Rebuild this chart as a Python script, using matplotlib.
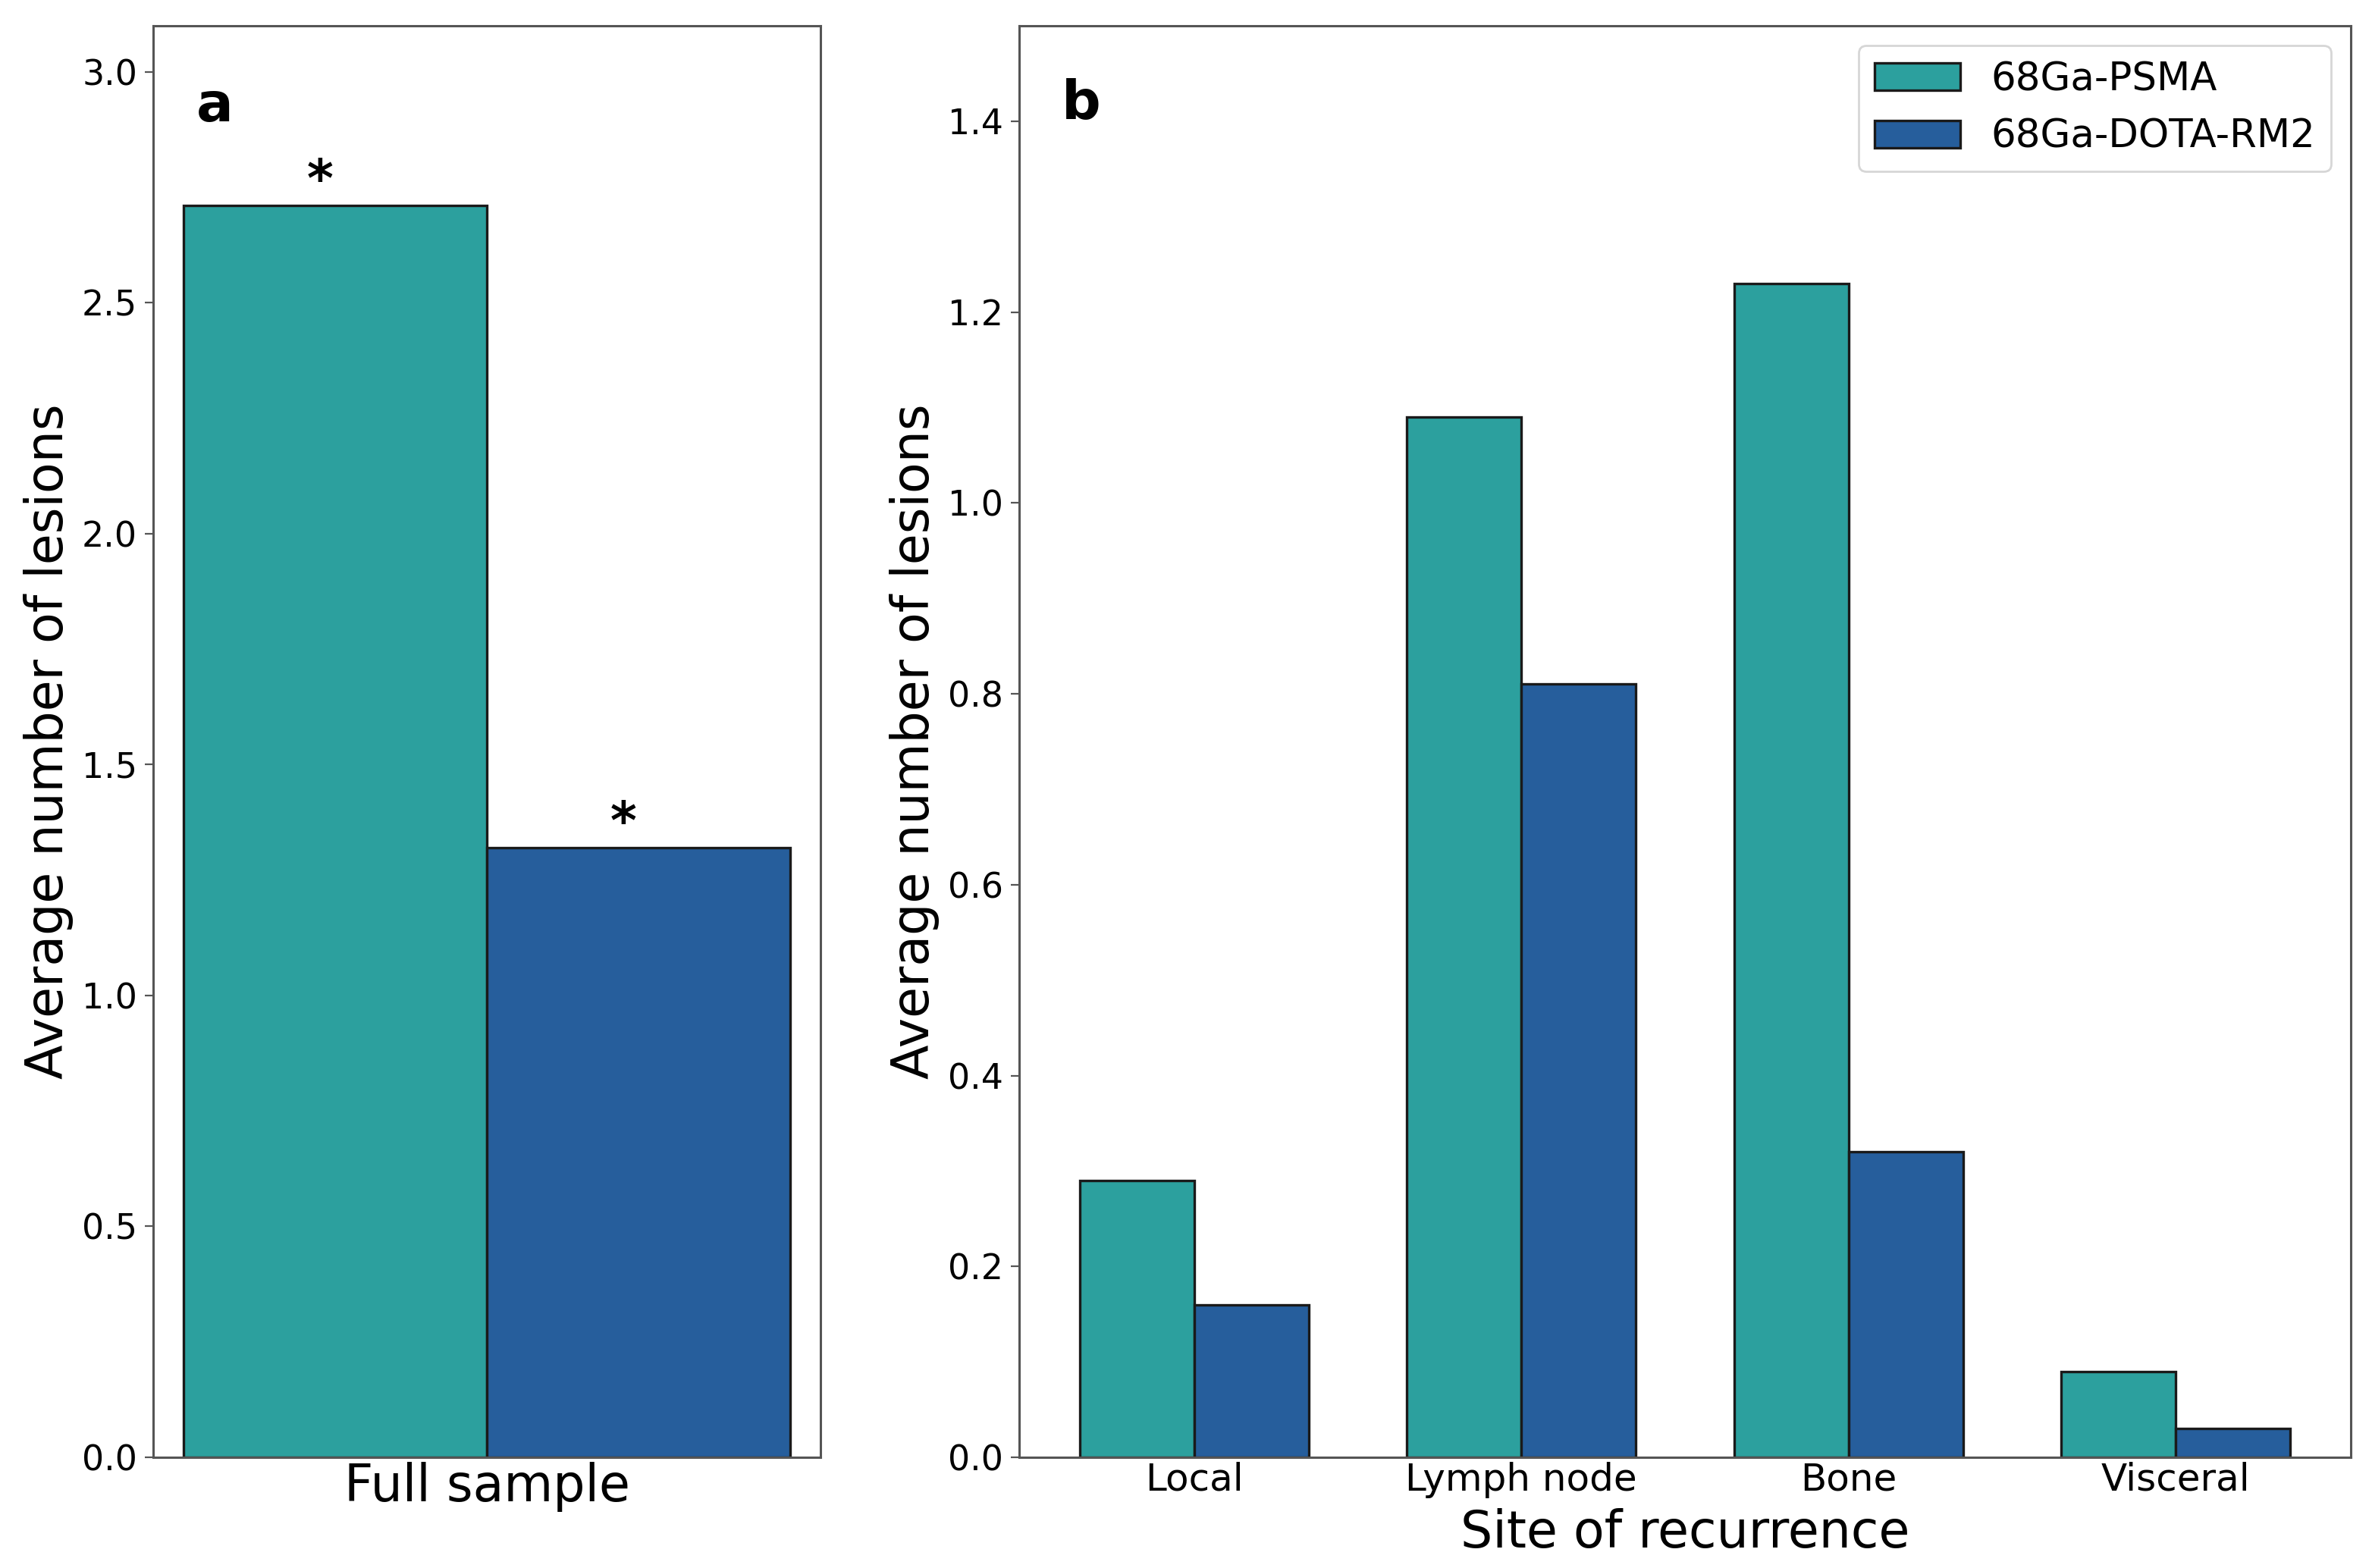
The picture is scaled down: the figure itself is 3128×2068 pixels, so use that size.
import numpy as np
import matplotlib
matplotlib.use("Agg")
import matplotlib.pyplot as plt

# data
tracers = ["68Ga-PSMA", "68Ga-DOTA-RM2"]
full_sample = [2.71, 1.32]
sites = ["Local", "Lymph node", "Bone", "Visceral"]
psma_by_site = [0.29, 1.09, 1.23, 0.09]
rm2_by_site = [0.16, 0.81, 0.32, 0.03]

teal = "#2ca09e"
blue = "#265e9c"
spine_col = "#555555"

plt.rcParams['font.family'] = ['DejaVu Sans']

fig = plt.figure(figsize=(15.64, 10.34), dpi=200)
axA = fig.add_axes([0.0645, 0.0706, 0.2815, 0.913])
axB = fig.add_axes([0.4297, 0.0706, 0.5613, 0.913])

# panel a
xa = np.arange(len(full_sample))
axA.bar(xa, full_sample, width=1.0, color=[teal, blue], edgecolor="#1a1a1a", linewidth=1.2)
for x, v in zip(xa, full_sample):
    axA.text(x - 0.05, v + 0.02, "*", ha="center", va="baseline", fontsize=24,
             fontweight="bold")
axA.set_ylim(0, 3.1)
axA.set_xticks([])
axA.set_xlabel("Full sample", fontsize=24, labelpad=2)
axA.set_ylabel("Average number of lesions", fontsize=24)
axA.text(0.065, 0.962, "a", transform=axA.transAxes, fontsize=26, fontweight="bold",
         ha="left", va="top")

# panel b
xb = np.arange(len(sites))
w = 0.35
axB.bar(xb, psma_by_site, width=-w, align="edge", color=teal, edgecolor="#1a1a1a",
        linewidth=1.2, label=tracers[0])
axB.bar(xb, rm2_by_site, width=w, align="edge", color=blue, edgecolor="#1a1a1a",
        linewidth=1.2, label=tracers[1])
axB.set_xlim(-0.535, 3.535)
axB.set_ylim(0, 1.5)
axB.set_xticks(xb)
axB.set_xticklabels(sites, fontsize=18)
axB.tick_params(axis="x", length=0, pad=2)
axB.set_xlabel("Site of recurrence", fontsize=24, labelpad=5)
axB.set_ylabel("Average number of lesions", fontsize=24)
axB.text(0.032, 0.964, "b", transform=axB.transAxes, fontsize=26, fontweight="bold",
         ha="left", va="top")
axB.legend(loc="upper right", fontsize=18.5, borderaxespad=0.5, handlelength=2.2)

for ax in (axA, axB):
    ax.tick_params(axis="y", labelsize=16.5, length=4, color=spine_col)
    for s in ax.spines.values():
        s.set_color(spine_col)
        s.set_linewidth(1.1)

fig.savefig("out.png", dpi=200)
